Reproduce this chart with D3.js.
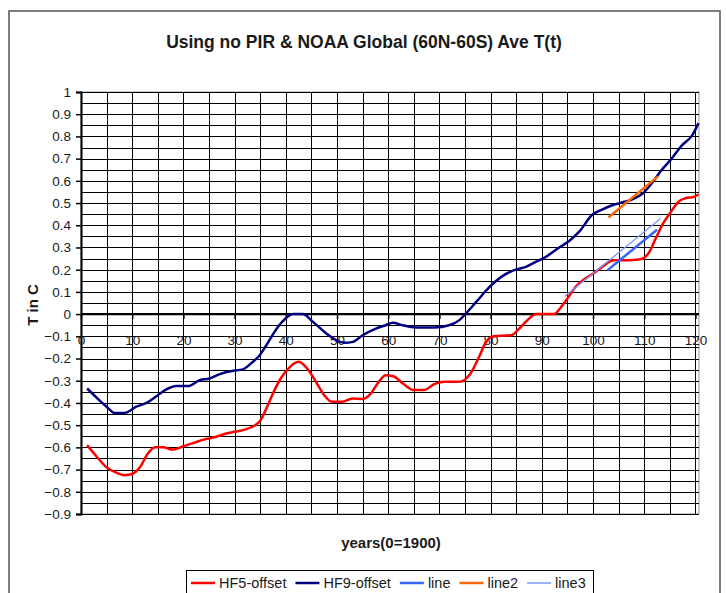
<!DOCTYPE html>
<html>
<head>
<meta charset="utf-8">
<style>
 body {margin: 0; background: #fff;}
 svg {display: block;}
 text {font-family: "Liberation Sans", Arial, sans-serif; fill: #1a1a1a;}
</style>
<title>Using no PIR &amp; NOAA Global (60N-60S) Ave T(t)</title>
</head>
<body>
<div id="contenedor"></div>
<script src="https://d3js.org/d3.v7.min.js"></script>
<script>
// series: years since 1900 and temperature offsets (C)
var hf5Years = [1.2, 3, 5, 7, 8.5, 10, 11.5, 13, 14.5, 16, 18, 20, 22, 24, 26, 28, 30, 32, 34, 35,
  36.3, 37.5, 39, 40.5, 42.5, 44.5, 46, 47.5, 49, 51, 53, 55, 56.5, 58, 59.5, 61, 63, 65, 67, 69,
  71, 74, 76, 77.8, 79, 80.5, 84, 85.6, 87.2, 88.9, 92.4, 93.7, 95, 96.5, 98.5, 100.5, 102.5, 104,
  106, 108, 109.7, 110.8, 112.4, 113.7, 115, 116.7, 118, 119.7, 120.6];
var hf5Values = [-0.59, -0.64, -0.69, -0.715, -0.725, -0.72, -0.69, -0.63, -0.6, -0.6, -0.61, -0.595,
  -0.58, -0.565, -0.555, -0.54, -0.53, -0.52, -0.5, -0.48, -0.42, -0.357, -0.29, -0.245, -0.215,
  -0.255, -0.31, -0.365, -0.395, -0.395, -0.38, -0.382, -0.36, -0.31, -0.275, -0.28, -0.315, -0.342,
  -0.342, -0.315, -0.305, -0.305, -0.27, -0.19, -0.13, -0.1, -0.095, -0.065, -0.027, 0, 0, 0.03,
  0.07, 0.12, 0.16, 0.19, 0.225, 0.243, 0.243, 0.244, 0.25, 0.273, 0.348, 0.408, 0.453, 0.506,
  0.521, 0.528, 0.54];

var hf9Years = [1.2, 3, 5, 6.6, 8.5, 10.8, 12.8, 15, 17, 18.6, 20.9, 23.2, 25.1, 27.1, 29.7, 31.6,
  33.2, 34.9, 36.2, 37.8, 39.4, 41.4, 43.3, 45.3, 47.9, 49.8, 51.5, 53.1, 55, 57.6, 59.5, 60.9, 62.8,
  65.4, 69, 71.9, 73.9, 75.2, 77.2, 79.7, 82.3, 84.6, 86.9, 88.9, 90.8, 93.4, 95.4, 97.3, 99.8,
  101.9, 103.5, 105.4, 107.7, 109.7, 111.7, 113.4, 115.4, 117.4, 119.4, 120.6];
var hf9Values = [-0.335, -0.375, -0.417, -0.445, -0.445, -0.417, -0.4, -0.365, -0.335, -0.324,
  -0.324, -0.297, -0.29, -0.27, -0.255, -0.249, -0.222, -0.185, -0.14, -0.08, -0.032, 0, 0, -0.035,
  -0.087, -0.117, -0.129, -0.125, -0.095, -0.065, -0.05, -0.039, -0.05, -0.06, -0.06, -0.05, -0.027,
  0.003, 0.055, 0.12, 0.171, 0.198, 0.213, 0.236, 0.258, 0.3, 0.33, 0.371, 0.446, 0.472, 0.488,
  0.501, 0.517, 0.543, 0.596, 0.649, 0.701, 0.761, 0.806, 0.86];

var lineYears = [102.8, 112.5];
var lineValues = [0.197, 0.38];
var line2Years = [103, 112.7];
var line2Values = [0.435, 0.62];
var line3Years = [94.5, 113.2];
var line3Values = [0.08, 0.43];

var seriesNames = ["HF5-offset", "HF9-offset", "line", "line2", "line3"];
var xTicks = [0, 10, 20, 30, 40, 50, 60, 70, 80, 90, 100, 110, 120];
var yTicks = [1, 0.9, 0.8, 0.7, 0.6, 0.5, 0.4, 0.3, 0.2, 0.1, 0, -0.1, -0.2, -0.3, -0.4, -0.5, -0.6, -0.7, -0.8, -0.9];

var width = 726, height = 593;
var colors = {"HF5-offset": "#ff0000", "HF9-offset": "#000080", "line": "#3366ff", "line2": "#ff6600", "line3": "#7799ff"};
var widths = {"HF5-offset": 2.5, "HF9-offset": 2.5, "line": 2.5, "line2": 2.5, "line3": 1.3};

function pairs(xs, ys) { return xs.map(function(x, i) { return [x, ys[i]]; }); }
var series = [
  {name: "HF5-offset", pts: pairs(hf5Years, hf5Values)},
  {name: "HF9-offset", pts: pairs(hf9Years, hf9Values)},
  {name: "line3", pts: pairs(line3Years, line3Values)},
  {name: "line", pts: pairs(lineYears, lineValues)},
  {name: "line2", pts: pairs(line2Years, line2Values)}
];

var plotL = 81, plotR = 699, plotT = 92, plotB = 514;
var x = d3.scaleLinear().domain([0, 120.7]).range([plotL, plotR]);
var y = d3.scaleLinear().domain([-0.9, 1]).range([plotB, plotT]);

var svg = d3.select("#contenedor").append("svg").attr("width", width).attr("height", height);

// outer chart frame
svg.append("rect").attr("x", 9).attr("y", 11).attr("width", 711).attr("height", 600)
   .attr("fill", "#fff").attr("stroke", "#555").attr("stroke-width", 1.5);

// plot frame
svg.append("rect").attr("x", plotL).attr("y", plotT).attr("width", plotR - plotL).attr("height", plotB - plotT)
   .attr("fill", "#fff").attr("stroke", "#999").attr("stroke-width", 1);

var grid = svg.append("g").attr("shape-rendering", "crispEdges").attr("stroke", "#000").attr("stroke-width", 1);
grid.selectAll("line.h").data(d3.range(-0.9, 1.0001, 0.05)).enter().append("line")
   .attr("x1", plotL).attr("x2", plotR)
   .attr("y1", function(d) { return Math.round(y(d)) + 0.5; })
   .attr("y2", function(d) { return Math.round(y(d)) + 0.5; });
grid.selectAll("line.v").data(d3.range(5, 121, 5)).enter().append("line")
   .attr("y1", plotT).attr("y2", plotB)
   .attr("x1", function(d) { return Math.round(x(d)) + 0.5; })
   .attr("x2", function(d) { return Math.round(x(d)) + 0.5; });

// y axis
var yAxis = svg.append("g").attr("transform", "translate(" + plotL + ",0)")
   .call(d3.axisLeft(y).tickValues(yTicks).tickSize(5).tickPadding(5).tickFormat(d3.format("")));
yAxis.select(".domain").attr("stroke", "#000").attr("stroke-width", 2);
yAxis.selectAll(".tick line").attr("stroke", "#000").attr("stroke-width", 1.5);
yAxis.selectAll(".tick text").attr("font-size", "13.5px").attr("font-family", "Liberation Sans, Arial").attr("fill", "#1a1a1a");

// x axis sits on the zero line
var xAxis = svg.append("g").attr("transform", "translate(0," + y(0) + ")")
   .call(d3.axisBottom(x).tickValues(xTicks).tickSize(5).tickPadding(16).tickSizeOuter(0));
xAxis.select(".domain").attr("stroke", "#000").attr("stroke-width", 2.2)
   .attr("d", "M" + plotL + ",0H" + plotR);
xAxis.selectAll(".tick line").attr("stroke", "#000").attr("stroke-width", 1.5);
xAxis.selectAll(".tick text").attr("font-size", "13.5px").attr("font-family", "Liberation Sans, Arial").attr("fill", "#1a1a1a");

// series
var lineGen = d3.line().x(function(d) { return x(d[0]); }).y(function(d) { return y(d[1]); })
   .curve(d3.curveMonotoneX);
svg.append("g").selectAll("path").data(series).enter().append("path")
   .attr("d", function(d) { return lineGen(d.pts); })
   .attr("fill", "none")
   .attr("stroke", function(d) { return colors[d.name]; })
   .attr("stroke-width", function(d) { return widths[d.name]; })
   .attr("stroke-linejoin", "round");

// titles
svg.append("text").attr("x", 364).attr("y", 48).attr("text-anchor", "middle")
   .attr("font-size", "17.5px").attr("font-weight", "bold").text("Using no PIR & NOAA Global (60N-60S) Ave T(t)");
svg.append("text").attr("x", 391).attr("y", 548).attr("text-anchor", "middle")
   .attr("font-size", "15px").attr("font-weight", "bold").text("years(0=1900)");
svg.append("text").attr("transform", "translate(38,305) rotate(-90)").attr("text-anchor", "middle")
   .attr("font-size", "15px").attr("font-weight", "bold").text("T in C");

// legend
var legend = svg.append("g");
legend.append("rect").attr("x", 186.5).attr("y", 570.5).attr("width", 407).attr("height", 40)
   .attr("fill", "#fff").attr("stroke", "#000").attr("stroke-width", 1);
var lx = 191;
seriesNames.forEach(function(name) {
  legend.append("line").attr("x1", lx).attr("x2", lx + 24).attr("y1", 583).attr("y2", 583)
     .attr("stroke", colors[name]).attr("stroke-width", name == "line3" ? 1.5 : 2.5);
  var t = legend.append("text").attr("x", lx + 28).attr("y", 588).attr("font-size", "14.5px").text(name);
  lx += 28 + t.node().getComputedTextLength() + 9;
});
</script>
</body>
</html>
